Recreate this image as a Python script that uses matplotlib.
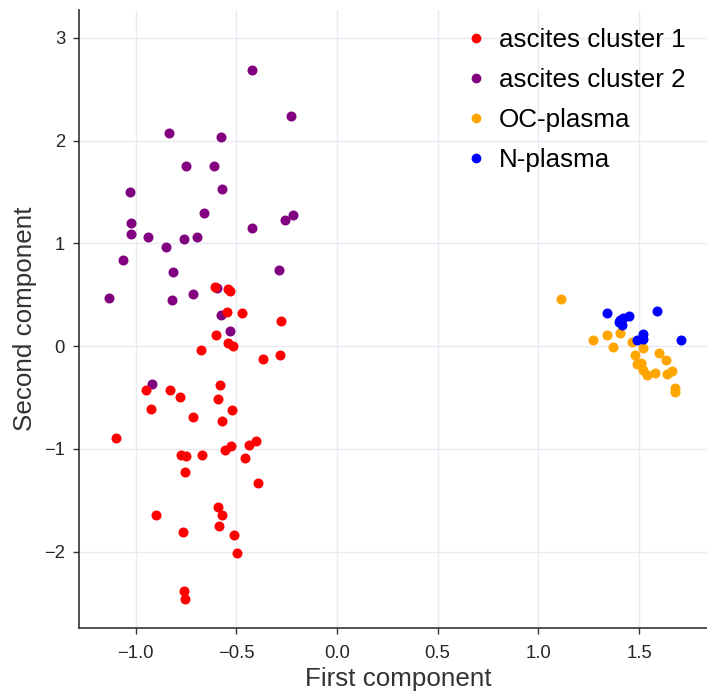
import matplotlib
matplotlib.use("Agg")
import matplotlib.pyplot as plt
import numpy as np

plt.rcParams['font.family'] = ['Liberation Sans', 'DejaVu Sans']

# ---- data ----
c1_x = [-0.606, -0.540, -0.531, -0.548, -0.473, -0.277, -0.601, -0.540, -0.515, -0.674,
        -0.369, -0.283, -0.948, -0.829, -0.781, -0.583, -0.589, -0.520, -0.924, -0.715,
        -0.573, -1.096, -0.404, -0.438, -0.526, -0.558, -0.775, -0.748, -0.672, -0.458,
        -0.755, -0.392, -0.897, -0.591, -0.569, -0.587, -0.765, -0.513, -0.498, -0.760,
        -0.756]
c1_y = [0.577, 0.551, 0.535, 0.328, 0.324, 0.240, 0.104, 0.026, 0.004, -0.042,
        -0.123, -0.084, -0.424, -0.424, -0.496, -0.379, -0.511, -0.618, -0.612, -0.693,
        -0.729, -0.890, -0.926, -0.958, -0.968, -1.014, -1.056, -1.072, -1.056, -1.091,
        -1.227, -1.337, -1.642, -1.564, -1.642, -1.752, -1.807, -1.836, -2.012, -2.387,
        -2.465]

c2_x = [-0.424, -0.227, -0.833, -0.574, -0.748, -0.611, -1.026, -0.569, -0.659, -0.217,
        -0.257, -1.025, -1.025, -0.422, -0.938, -0.760, -0.695, -0.851, -1.061, -0.288,
        -0.813, -1.132, -0.818, -0.717, -0.596, -0.576, -0.531, -0.917]
c2_y = [2.69, 2.24, 2.077, 2.035, 1.756, 1.753, 1.503, 1.532, 1.29, 1.28,
        1.222, 1.196, 1.095, 1.147, 1.06, 1.044, 1.063, 0.962, 0.833, 0.739,
        0.723, 0.470, 0.447, 0.502, 0.561, 0.301, 0.146, -0.369]

oc_x = [1.112, 1.270, 1.342, 1.405, 1.370, 1.465, 1.518, 1.482, 1.600, 1.635,
        1.490, 1.512, 1.522, 1.540, 1.578, 1.638, 1.662, 1.676, 1.676]
oc_y = [0.454, 0.060, 0.111, 0.128, -0.012, 0.040, -0.020, -0.085, -0.070, -0.135,
        -0.175, -0.160, -0.228, -0.278, -0.265, -0.270, -0.240, -0.405, -0.445]

n_x = [1.342, 1.451, 1.589, 1.707, 1.405, 1.420, 1.414, 1.400, 1.518, 1.518, 1.491]
n_y = [0.321, 0.292, 0.340, 0.055, 0.250, 0.275, 0.201, 0.230, 0.117, 0.072, 0.062]

groups = [
    ("ascites cluster 1", c1_x, c1_y, "red"),
    ("ascites cluster 2", c2_x, c2_y, "purple"),
    ("OC-plasma", oc_x, oc_y, "orange"),
    ("N-plasma", n_x, n_y, "blue"),
]

fig = plt.figure(figsize=(7.07, 6.95), dpi=100)
# axes extends slightly past the right figure edge (reference is cropped)
ax = fig.add_axes([79/707, (695-628)/695, (717-79)/707, (628-10)/695])

ax.grid(True, color='#eaeaf2', linewidth=1.0, zorder=0)
ax.set_axisbelow(True)

# draw order: purple first, then red on top (red overlaps purple in reference)
draw_order = [1, 0, 2, 3]
for i in draw_order:
    lab, xs, ys, col = groups[i]
    ax.scatter(xs, ys, s=52, color=col, linewidths=0, zorder=3)

handles = [plt.Line2D([], [], marker='o', linestyle='', color=g[3], markersize=6) for g in groups]
labels = [g[0] for g in groups]
leg = ax.legend(handles, labels, loc='upper right', frameon=False, fontsize=18.7,
                handletextpad=0.1, handlelength=1.6, labelspacing=0.61,
                bbox_to_anchor=((707-79)/(717-79) - 0.005, 1.0), borderaxespad=0.3)

ax.set_xlim(-1.281, 1.887)
ax.set_ylim(-2.743, 3.27)
ax.set_xticks([-1.0, -0.5, 0.0, 0.5, 1.0, 1.5])
ax.set_yticks([-2, -1, 0, 1, 2, 3])

for side in ['top', 'right']:
    ax.spines[side].set_visible(False)
for side in ['left', 'bottom']:
    ax.spines[side].set_color('#333333')
    ax.spines[side].set_linewidth(1.2)

ax.tick_params(axis='both', direction='out', length=4, width=1, color='#333333',
               labelsize=13.3, labelcolor='#262626', pad=6)
ax.tick_params(axis='x', pad=8)

ax.set_xlabel("First component", fontsize=18.7, color='#333333', labelpad=4)
ax.set_ylabel("Second component", fontsize=18.7, color='#333333', labelpad=5)

fig.savefig("out.png", dpi=100)
